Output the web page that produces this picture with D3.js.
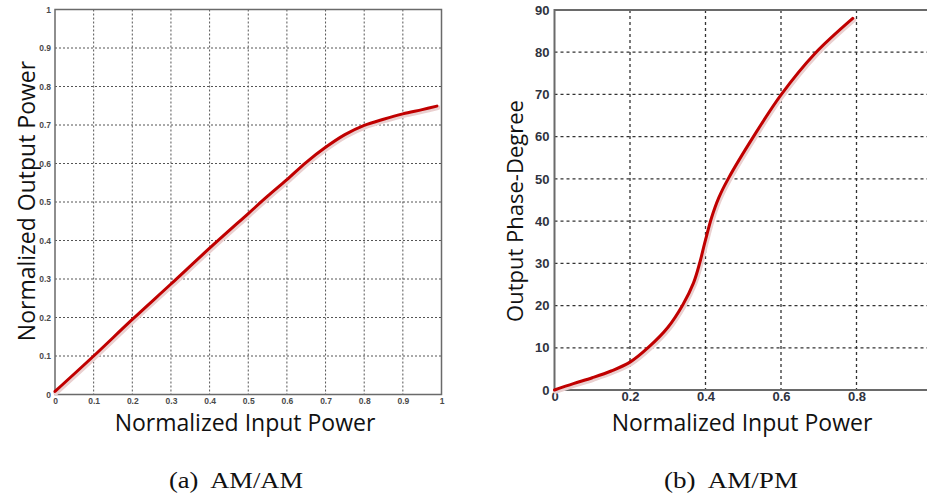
<!DOCTYPE html>
<html>
<head>
<meta charset="utf-8">
<script src="https://cdn.jsdelivr.net/npm/d3@7"></script>
<style>
  html, body { margin: 0; padding: 0; background: #fff; }
  svg { display: block; }
</style>
</head>
<body>
<svg id="chart" width="927" height="502"></svg>
<script>
// AM/AM characteristic: normalized input vs normalized output power
const amamInput  = [0, 0.1, 0.2, 0.3, 0.4, 0.5, 0.55, 0.6, 0.65, 0.7, 0.75, 0.8, 0.85, 0.9, 0.95, 0.988];
const amamOutput = [0.008, 0.1, 0.195, 0.287, 0.38, 0.47, 0.515, 0.558, 0.603, 0.642, 0.675, 0.699, 0.715, 0.729, 0.74, 0.749];

// AM/PM characteristic: normalized input power vs output phase (degrees)
const ampmInput = [0, 0.05, 0.1, 0.15, 0.2, 0.25, 0.3, 0.34, 0.368, 0.385, 0.399, 0.416, 0.435, 0.46, 0.527, 0.6, 0.69, 0.79];
const ampmPhase = [0, 1.5, 2.9, 4.5, 6.6, 10.2, 14.8, 20.2, 25.3, 30.2, 35.2, 40.8, 45.5, 50, 60, 69.9, 79.7, 88];

// Tick values
const amamXTicks = [0, 0.1, 0.2, 0.3, 0.4, 0.5, 0.6, 0.7, 0.8, 0.9, 1];
const amamYTicks = [0, 0.1, 0.2, 0.3, 0.4, 0.5, 0.6, 0.7, 0.8, 0.9, 1];
const ampmXTicks = [0, 0.2, 0.4, 0.6, 0.8];
const ampmYTicks = [0, 10, 20, 30, 40, 50, 60, 70, 80, 90];

// Captions
const captions = ["(a)  AM/AM", "(b)  AM/PM"];

const svg = d3.select("#chart");
const curveColor = "#c00000";

function panel(opts) {
  const g = svg.append("g");
  const x = d3.scaleLinear().domain(opts.xDomain).range([opts.left, opts.right]);
  const y = d3.scaleLinear().domain(opts.yDomain).range([opts.bottom, opts.top]);

  // dotted grid
  g.append("g").selectAll("line").data(opts.xTicks.filter(d => d > opts.xDomain[0] && d < opts.xDomain[1]))
    .join("line")
    .attr("x1", d => x(d)).attr("x2", d => x(d))
    .attr("y1", opts.top).attr("y2", opts.bottom)
    .attr("stroke", opts.gridColor).attr("stroke-width", opts.gridWidth)
    .attr("stroke-dasharray", opts.dash);
  g.append("g").selectAll("line").data(opts.yTicks.filter(d => d > opts.yDomain[0] && d < opts.yDomain[1]))
    .join("line")
    .attr("x1", opts.left).attr("x2", opts.frameRight)
    .attr("y1", d => y(d)).attr("y2", d => y(d))
    .attr("stroke", opts.gridColor).attr("stroke-width", opts.gridWidth)
    .attr("stroke-dasharray", opts.dash);

  // axes with tick labels
  const xAxis = d3.axisBottom(x).tickValues(opts.xTicks).tickFormat(d3.format("~g")).tickSize(0).tickPadding(opts.tickPadX);
  const yAxis = d3.axisLeft(y).tickValues(opts.yTicks).tickFormat(d3.format("~g")).tickSize(0).tickPadding(opts.tickPadY);
  const gx = g.append("g").attr("transform", `translate(0,${opts.bottom})`).call(xAxis);
  const gy = g.append("g").attr("transform", `translate(${opts.left},0)`).call(yAxis);
  [gx, gy].forEach(a => {
    a.select(".domain").remove();
    a.selectAll("text")
      .attr("fill", opts.tickColor)
      .style("font-family", "Arial, 'Liberation Sans', sans-serif")
      .style("font-weight", "bold")
      .style("font-size", opts.tickSize + "px");
  });

  // frame
  g.append("path")
    .attr("d", opts.framePath(x, y))
    .attr("fill", "none")
    .attr("stroke", "#6a6a6a")
    .attr("stroke-width", opts.frameWidth);

  // curve with its faint shadow
  const line = d3.line().x(d => x(d[0])).y(d => y(d[1])).curve(d3.curveCatmullRom.alpha(0.5));
  const pts = d3.zip(opts.xs, opts.ys);
  g.append("path")
    .datum(pts)
    .attr("d", line)
    .attr("fill", "none")
    .attr("stroke", "#ead0d0")
    .attr("stroke-width", 5)
    .attr("transform", "translate(1,1.5)")
    .attr("stroke-linecap", "round");
  g.append("path")
    .datum(pts)
    .attr("d", line)
    .attr("fill", "none")
    .attr("stroke", curveColor)
    .attr("stroke-width", 3)
    .attr("stroke-linecap", "round");

  // axis titles
  g.append("text")
    .attr("x", opts.xLabelX).attr("y", 431)
    .attr("text-anchor", "middle")
    .style("font-family", "'Open Sans', sans-serif")
    .style("font-size", "23px")
    .attr("fill", "#111")
    .text("Normalized Input Power");
  g.append("text")
    .attr("transform", `translate(${opts.yLabelX},${opts.yLabelCenter}) rotate(-90)`)
    .attr("text-anchor", "middle")
    .style("font-family", "'Open Sans', sans-serif")
    .style("font-size", opts.yLabelSize + "px")
    .attr("fill", "#111")
    .text(opts.yLabel);
}

// (a) AM/AM
panel({
  xDomain: [0, 1], yDomain: [0, 1],
  left: 55, right: 441.5, top: 9.5, bottom: 394.5, frameRight: 441.5,
  xTicks: amamXTicks, yTicks: amamYTicks,
  gridColor: "#555", gridWidth: 1, dash: "2,2",
  tickColor: "#4a4a4a", tickSize: 8.5, tickPadX: 3, tickPadY: 4,
  frameWidth: 1.5,
  framePath: (x, y) => `M${x(0)},${y(0)}H${x(1)}V${y(1)}H${x(0)}Z`,
  xs: amamInput, ys: amamOutput,
  xLabelX: 245,
  yLabelX: 35, yLabelCenter: 201, yLabelSize: 23, yLabel: "Normalized Output Power"
});

// (b) AM/PM (the right edge of this panel runs past the page)
panel({
  xDomain: [0, 1], yDomain: [0, 90],
  left: 554.5, right: 932, top: 10, bottom: 390, frameRight: 927,
  xTicks: ampmXTicks, yTicks: ampmYTicks,
  gridColor: "#333", gridWidth: 1.3, dash: "3,3",
  tickColor: "#2f3340", tickSize: 13, tickPadX: 2, tickPadY: 5,
  frameWidth: 2,
  framePath: (x, y) => `M932,${y(0)}H${x(0)}V${y(90)}H932`,
  xs: ampmInput, ys: ampmPhase,
  xLabelX: 742,
  yLabelX: 523, yLabelCenter: 211, yLabelSize: 22, yLabel: "Output Phase-Degree"
});

// captions
svg.selectAll("text.caption").data(captions).join("text")
  .attr("class", "caption")
  .attr("x", (d, i) => i === 0 ? 236 : 731)
  .attr("y", 488)
  .attr("text-anchor", "middle")
  .attr("textLength", 134)
  .attr("lengthAdjust", "spacingAndGlyphs")
  .style("font-family", "'Liberation Serif', 'DejaVu Serif', serif")
  .style("font-size", "23px")
  .style("white-space", "pre")
  .attr("fill", "#111")
  .text(d => d);
</script>
</body>
</html>
